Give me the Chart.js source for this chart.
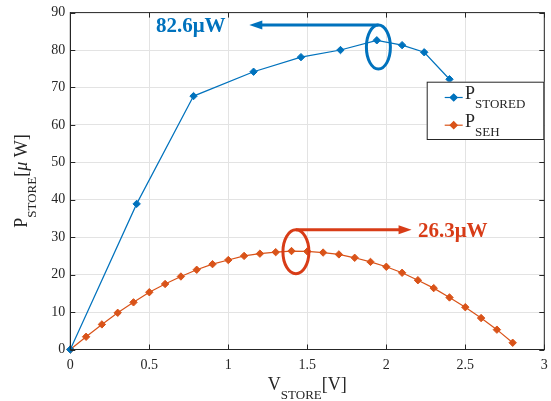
<!DOCTYPE html>
<html>
<head>
<meta charset="utf-8">
<script src="https://cdn.jsdelivr.net/npm/chart.js@4.4.1/dist/chart.umd.min.js"></script>
<style>
  body { margin: 0; background: #fff; }
  canvas { display: block; }
</style>
</head>
<body>
<canvas id="power" width="551" height="401"></canvas>
<script>
// stored power vs storage voltage
const vStored = [0, 0.42, 0.78, 1.16, 1.46, 1.71, 1.94, 2.10, 2.24, 2.40];
const pStored = [0, 38.9, 67.7, 74.2, 78.1, 80.0, 82.6, 81.3, 79.4, 72.2];

// harvester power, 0.1 V steps
const vSeh = [0, 0.1, 0.2, 0.3, 0.4, 0.5, 0.6, 0.7, 0.8, 0.9, 1.0, 1.1, 1.2, 1.3, 1.4,
              1.5, 1.6, 1.7, 1.8, 1.9, 2.0, 2.1, 2.2, 2.3, 2.4, 2.5, 2.6, 2.7, 2.8];
const pSeh = [0, 3.4, 6.7, 9.8, 12.6, 15.3, 17.5, 19.5, 21.3, 22.8, 23.9, 25.0, 25.6, 26.0, 26.3,
              26.2, 25.9, 25.4, 24.5, 23.4, 22.1, 20.5, 18.5, 16.4, 13.9, 11.3, 8.4, 5.3, 1.8];

const xTicks = [0, 0.5, 1, 1.5, 2, 2.5, 3];
const yTicks = [0, 10, 20, 30, 40, 50, 60, 70, 80, 90];

const SERIF = "'Liberation Serif', 'Times New Roman', serif";
const INK = '#262626';
const BLUE = '#0072BD';
const ORANGE = '#D95319';
const RED = '#D83C17';

Chart.defaults.font.family = SERIF;
Chart.defaults.color = INK;

const toPoints = (xs, ys) => xs.map((x, i) => ({ x: x, y: ys[i] }));

// draw a run of text pieces (main / subscript) from x on baseline y, returns width
function runText(ctx, x, y, parts, draw) {
  let cx = x;
  for (const p of parts) {
    ctx.font = p.font;
    if (draw) ctx.fillText(p.text, cx, y + (p.drop || 0));
    cx += ctx.measureText(p.text).width;
  }
  return cx - x;
}

const big = `18px ${SERIF}`;
const small = `13px ${SERIF}`;
const xTitle = [{ text: 'V', font: big }, { text: 'STORE', font: small, drop: 9 }, { text: '[V]', font: big }];
const yTitle = [{ text: 'P', font: big }, { text: 'STORE', font: small, drop: 9 },
                { text: '[', font: big }, { text: 'μ ', font: `italic ${big}` }, { text: 'W]', font: big }];

const legendItems = [
  { main: 'P', sub: 'STORED', color: BLUE },
  { main: 'P', sub: 'SEH', color: ORANGE }
];

// callouts: ellipse round the peak, arrow out to the value
const callouts = [
  { values: pStored, cx: 1.95, cy: 80.8, rx: 12, ry: 22, tip: 1.133, textX: 0.542, color: BLUE },
  { values: pSeh, cx: 1.428, cy: 26.1, rx: 13, ry: 22, tip: 2.16, textX: 2.2, color: RED }
];

const framePlugin = {
  id: 'frame',
  afterDraw(chart) {
    const ctx = chart.ctx;
    const a = chart.chartArea;
    const xs = chart.scales.x, ys = chart.scales.y;
    ctx.save();

    // box and inward ticks on all four sides
    ctx.strokeStyle = INK;
    ctx.lineWidth = 1;
    ctx.strokeRect(a.left, a.top, a.right - a.left, a.bottom - a.top);
    ctx.beginPath();
    xTicks.forEach(v => {
      const px = Math.round(xs.getPixelForValue(v)) + 0.5;
      ctx.moveTo(px, a.bottom); ctx.lineTo(px, a.bottom - 5);
      ctx.moveTo(px, a.top); ctx.lineTo(px, a.top + 5);
    });
    yTicks.forEach(v => {
      const py = Math.round(ys.getPixelForValue(v)) + 0.5;
      ctx.moveTo(a.left, py); ctx.lineTo(a.left + 5, py);
      ctx.moveTo(a.right, py); ctx.lineTo(a.right - 5, py);
    });
    ctx.stroke();

    // axis titles
    ctx.fillStyle = INK;
    ctx.textAlign = 'left';
    ctx.textBaseline = 'alphabetic';
    const cxMid = (a.left + a.right) / 2;
    const wx = runText(ctx, 0, 0, xTitle, false);
    runText(ctx, cxMid - wx / 2, 390, xTitle, true);

    const cyMid = (a.top + a.bottom) / 2;
    const wy = runText(ctx, 0, 0, yTitle, false);
    ctx.save();
    ctx.translate(27, cyMid + wy / 2);
    ctx.rotate(-Math.PI / 2);
    runText(ctx, 0, 0, yTitle, true);
    ctx.restore();

    // legend
    const bx = a.right - 117.6, by = a.top + 69.1, bw = 117.6, bh = 58.3;
    ctx.fillStyle = '#fff';
    ctx.fillRect(bx, by, bw, bh);
    ctx.strokeStyle = INK;
    ctx.strokeRect(bx + 0.5, by + 0.5, bw - 1, bh - 1);
    legendItems.forEach((it, i) => {
      const base = by + 17.3 + i * 27.7;
      const ly = base - 1.5;
      ctx.strokeStyle = it.color;
      ctx.lineWidth = 1.2;
      ctx.beginPath();
      ctx.moveTo(bx + 18, ly); ctx.lineTo(bx + 36, ly);
      ctx.stroke();
      ctx.fillStyle = it.color;
      Chart.helpers.drawPoint(ctx, { pointStyle: 'rectRot', radius: 3.5, borderWidth: 1 }, bx + 27, ly);
      ctx.fill();
      ctx.fillStyle = INK;
      runText(ctx, bx + 38.3, base,
        [{ text: it.main, font: big }, { text: it.sub, font: small, drop: 9 }], true);
    });

    // peak callouts
    callouts.forEach(c => {
      const ex = xs.getPixelForValue(c.cx), ey = ys.getPixelForValue(c.cy);
      const ly = ey - c.ry;
      const tipX = xs.getPixelForValue(c.tip);
      const dir = tipX > ex ? 1 : -1;
      ctx.strokeStyle = c.color;
      ctx.fillStyle = c.color;
      ctx.lineWidth = 3;
      ctx.beginPath();
      ctx.ellipse(ex, ey, c.rx, c.ry, 0, 0, Math.PI * 2);
      ctx.stroke();
      ctx.beginPath();
      ctx.moveTo(ex, ly);
      ctx.lineTo(tipX - dir * 11, ly);
      ctx.stroke();
      ctx.beginPath();
      ctx.moveTo(tipX, ly);
      ctx.lineTo(tipX - dir * 13, ly - 4.5);
      ctx.lineTo(tipX - dir * 13, ly + 4.5);
      ctx.closePath();
      ctx.fill();
      ctx.font = `bold 21px ${SERIF}`;
      ctx.textBaseline = 'middle';
      ctx.textAlign = 'left';
      ctx.fillText(`${Math.max(...c.values)}μW`, xs.getPixelForValue(c.textX), ly + 1.5);
    });
    ctx.restore();
  }
};

const lineSet = (label, data, color) => ({
  label: label,
  data: data,
  borderColor: color,
  backgroundColor: color,
  borderWidth: 1.2,
  pointStyle: 'rectRot',
  pointRadius: 3.7,
  pointBorderWidth: 1,
  pointBackgroundColor: color,
  showLine: true,
  tension: 0,
  clip: false
});

const tickFont = { family: SERIF, size: 14 };

new Chart(document.getElementById('power'), {
  type: 'scatter',
  plugins: [framePlugin],
  data: {
    datasets: [
      lineSet('P_STORED', toPoints(vStored, pStored), BLUE),
      lineSet('P_SEH', toPoints(vSeh, pSeh), ORANGE)
    ]
  },
  options: {
    responsive: false,
    animation: false,
    events: [],
    layout: { padding: { left: 0, top: 12.6, right: 6.7, bottom: 0 } },
    plugins: { legend: { display: false }, tooltip: { enabled: false } },
    scales: {
      x: {
        type: 'linear',
        min: 0,
        max: 3,
        afterBuildTicks: s => { s.ticks = xTicks.map(v => ({ value: v })); },
        afterFit: s => {
          s.height = 51.5;
          // end labels are allowed to hang over the plot edges
          s.paddingLeft = 0;
          s.paddingRight = 0;
        },
        ticks: { color: INK, padding: 7, maxRotation: 0, font: tickFont, callback: v => String(v) },
        grid: { color: '#e3e3e3', drawTicks: false },
        border: { color: INK }
      },
      y: {
        min: 0,
        max: 90,
        afterBuildTicks: s => { s.ticks = yTicks.map(v => ({ value: v })); },
        afterFit: s => {
          s.width = 70.3;
          s.paddingTop = 0;
          s.paddingBottom = 0;
        },
        ticks: { color: INK, padding: 5, font: tickFont, callback: v => String(v) },
        grid: { color: '#e3e3e3', drawTicks: false },
        border: { color: INK }
      }
    }
  }
});
</script>
</body>
</html>
